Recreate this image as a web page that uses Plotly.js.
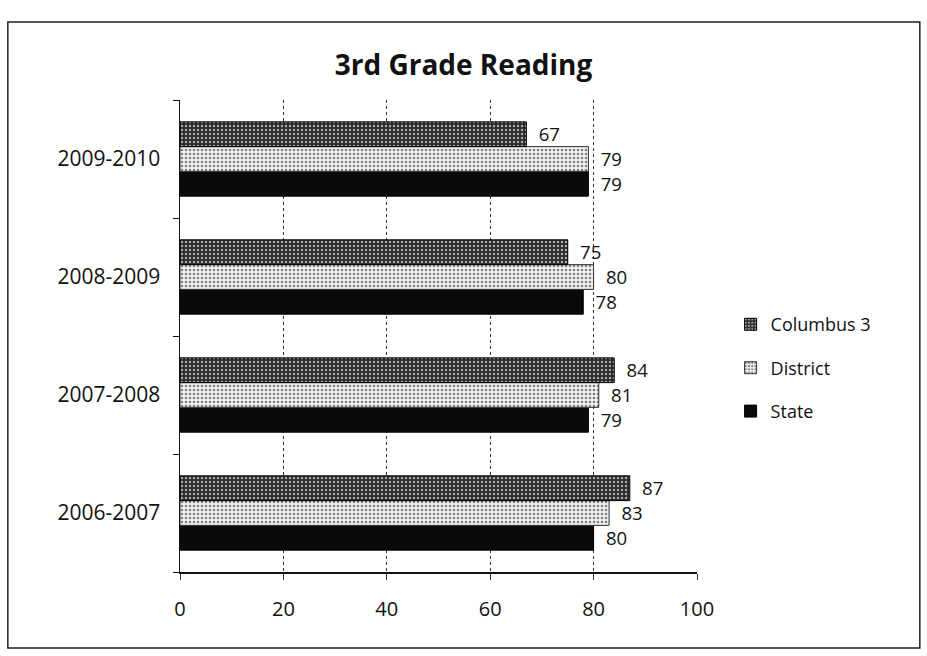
<!DOCTYPE html>
<html>
<head>
<meta charset="utf-8">
<script src="https://cdn.plot.ly/plotly-3.0.1.min.js"></script>
<style>html,body{margin:0;padding:0;background:#fff;}#chart{width:927px;height:656px;}</style>
</head>
<body>
<div id="chart"></div>
<script>
const categories = ["2006-2007", "2007-2008", "2008-2009", "2009-2010"];
const columbus3 = [87, 84, 75, 67];
const district = [83, 81, 80, 79];
const state = [80, 79, 78, 79];
const xTicks = [0, 20, 40, 60, 80, 100];

const FONT = "Open Sans, Noto Sans, sans-serif";
const lbl = {family: FONT, size: 21, color: "#111"};
const tmpl = "\u2002%{x}";

const traces = [
  {name: "State", legendgroup: "s", legendrank: 3, type: "bar", orientation: "h", y: categories, x: state,
   texttemplate: tmpl, textposition: "outside", textfont: lbl, cliponaxis: false,
   marker: {color: "#0a0a0a", line: {color: "#000", width: 1}}},
  {name: "District", legendgroup: "d", legendrank: 2, type: "bar", orientation: "h", y: categories, x: district,
   texttemplate: tmpl, textposition: "outside", textfont: lbl, cliponaxis: false,
   marker: {color: "#f2f2f2", line: {color: "#333", width: 1},
            pattern: {shape: ".", fgcolor: "#808080", bgcolor: "#f2f2f2", size: 4, solidity: 0.35}}},
  {name: "Columbus 3", legendgroup: "c", legendrank: 1, type: "bar", orientation: "h", y: categories, x: columbus3,
   texttemplate: tmpl, textposition: "outside", textfont: lbl, cliponaxis: false,
   marker: {color: "#2a2a2a", line: {color: "#000", width: 1},
            pattern: {shape: ".", fgcolor: "#a8a8a8", bgcolor: "#2a2a2a", size: 4, solidity: 0.3}}}
];

const layout = {
  width: 927, height: 656,
  paper_bgcolor: "#fff", plot_bgcolor: "#fff",
  margin: {l: 180, r: 230, t: 100, b: 84},
  title: {text: "<b>3rd Grade Reading</b>", x: 0.5, xanchor: "center", y: 0.9, yanchor: "middle",
          font: {family: FONT, size: 28, color: "#111"}},
  barmode: "group", bargap: 0.37, bargroupgap: 0,
  showlegend: true,
  legend: {traceorder: "grouped", x: 1.065, xanchor: "left", y: 0.432, yanchor: "middle",
           font: {family: FONT, size: 18, color: "#111"}, itemwidth: 30, tracegroupgap: 17},
  xaxis: {range: [0, 100], tickvals: xTicks, ticktext: xTicks.map(String),
          showgrid: true, gridcolor: "#333", griddash: "dot", gridwidth: 1,
          showline: true, linecolor: "#111", linewidth: 1.5,
          ticks: "outside", ticklen: 6, tickcolor: "#333", ticklabelstandoff: 12,
          tickfont: {family: FONT, size: 20, color: "#111"}, zeroline: false},
  yaxis: {categoryorder: "array", categoryarray: categories, type: "category",
          showline: true, linecolor: "#111", linewidth: 1.5,
          ticks: "outside", tickson: "boundaries", ticklen: 6, tickcolor: "#111",
          tickfont: {family: FONT, size: 21, color: "#111"}, ticklabelstandoff: 14,
          showgrid: false},
  shapes: [
    {type: "rect", xref: "paper", yref: "paper", x0: -0.333, x1: 1.431, y0: -0.161, y1: 1.165,
     line: {color: "#222", width: 1.5}, fillcolor: "rgba(0,0,0,0)"}
  ]
};

Plotly.newPlot("chart", traces, layout, {displayModeBar: false, staticPlot: true});
</script>
</body>
</html>
